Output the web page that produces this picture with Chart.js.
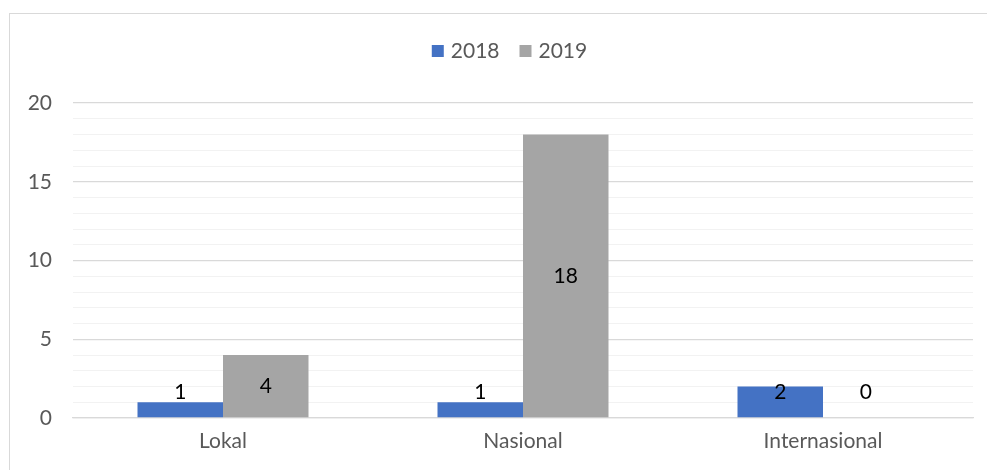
<!DOCTYPE html>
<html>
<head>
<meta charset="utf-8">
<script src="https://cdn.jsdelivr.net/npm/chart.js@4.4.1/dist/chart.umd.min.js"></script>
<style>
  html, body { margin: 0; padding: 0; background: #fff; }
  #wrap { position: relative; width: 987px; height: 470px; overflow: hidden; }
  #frame { position: absolute; left: 9px; top: 13px; width: 1000px; height: 500px; border: 1px solid #D9D9D9; box-sizing: border-box; }
  canvas { position: absolute; left: 0; top: 0; }
</style>
</head>
<body>
<div id="wrap">
  <div id="frame"></div>
  <canvas id="barChart" width="987" height="470"></canvas>
</div>
<script>
var categories = ['Lokal', 'Nasional', 'Internasional'];
var seriesNames = ['2018', '2019'];
var values2018 = [1, 1, 2];
var values2019 = [4, 18, 0];
var yTicks = [0, 5, 10, 15, 20];

var FONT = 'Lato, "Open Sans", sans-serif';

// Excel style legend, drawn centred above the plot
var legendPlugin = {
    id: 'topLegend',
    afterDraw: function (chart) {
        var ctx = chart.ctx;
        var sets = chart.data.datasets;
        ctx.save();
        ctx.font = '21px ' + FONT;
        ctx.textBaseline = 'middle';
        var box = 12, gap = 7, spacing = 20;
        var total = 0;
        sets.forEach(function (d, i) {
            total += box + gap + ctx.measureText(d.label).width;
            if (i < sets.length - 1) total += spacing;
        });
        var x = (chart.width - total) / 2 + 16;
        var y = 51;
        sets.forEach(function (d) {
            ctx.fillStyle = d.backgroundColor;
            ctx.fillRect(x, y - box / 2, box, box);
            x += box + gap;
            ctx.fillStyle = '#595959';
            ctx.fillText(d.label, x, y);
            x += ctx.measureText(d.label).width + spacing;
        });
        ctx.restore();
    }
};

// value labels, centred in the bar but never lower than just above the axis
var valueLabels = {
    id: 'valueLabels',
    afterDatasetsDraw: function (chart) {
        var ctx = chart.ctx;
        var base = chart.scales.y.getPixelForValue(0);
        ctx.save();
        ctx.font = '21px ' + FONT;
        ctx.fillStyle = '#000';
        ctx.textAlign = 'center';
        ctx.textBaseline = 'middle';
        chart.data.datasets.forEach(function (d, i) {
            chart.getDatasetMeta(i).data.forEach(function (bar, j) {
                var mid = (bar.y + base) / 2;
                var y = Math.min(mid, base - 26);
                ctx.fillText(String(d.data[j]), bar.x, y);
            });
        });
        ctx.restore();
    }
};

var ctx = document.getElementById('barChart');
new Chart(ctx, {
    type: 'bar',
    data: {
        labels: categories,
        datasets: [
            { label: seriesNames[0], data: values2018, backgroundColor: '#4472C4' },
            { label: seriesNames[1], data: values2019, backgroundColor: '#A5A5A5' }
        ]
    },
    options: {
        responsive: false,
        animation: false,
        categoryPercentage: 0.57,
        barPercentage: 1,
        layout: { padding: { top: 103, right: 14, left: 0, bottom: 0 } },
        plugins: {
            legend: { display: false },
            tooltip: { enabled: false }
        },
        scales: {
            x: {
                grid: { display: false, drawTicks: false },
                border: { color: '#D9D9D9', width: 1.3 },
                ticks: { color: '#595959', font: { size: 21, family: FONT }, padding: 11 },
                afterFit: function (s) { s.height = 52; }
            },
            y: {
                min: yTicks[0],
                max: yTicks[yTicks.length - 1],
                ticks: {
                    stepSize: 1,
                    autoSkip: false,
                    color: '#595959',
                    font: { size: 21, family: FONT },
                    padding: 21,
                    callback: function (v) { return yTicks.indexOf(v) >= 0 ? v : ''; }
                },
                grid: {
                    drawTicks: false,
                    color: function (c) { return c.tick.value % 5 === 0 ? '#D9D9D9' : '#F2F2F2'; },
                    lineWidth: function (c) { return c.tick.value % 5 === 0 ? 1.3 : 1; }
                },
                border: { display: false },
                afterFit: function (s) { s.width = 73; }
            }
        }
    },
    plugins: [legendPlugin, valueLabels]
});
</script>
</body>
</html>
